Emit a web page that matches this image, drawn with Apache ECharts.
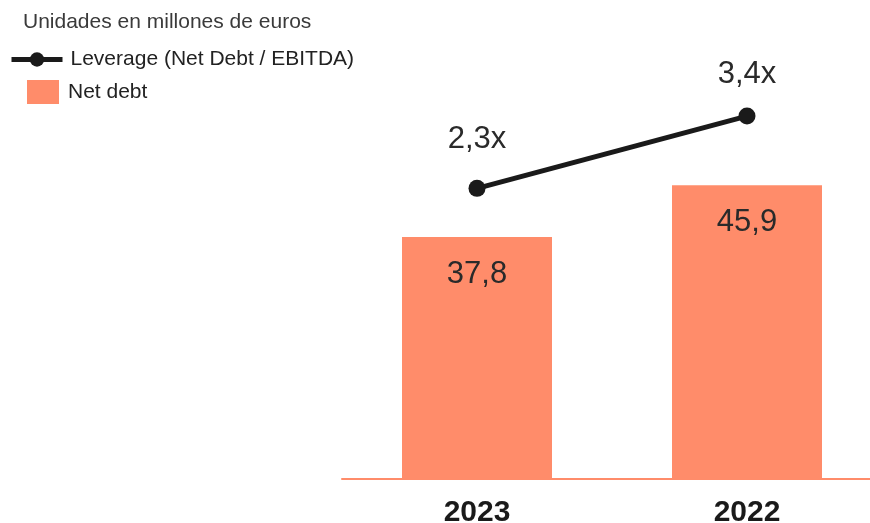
<!DOCTYPE html>
<html>
<head>
    <meta charset="utf-8" />
    <script src="https://cdn.jsdelivr.net/npm/echarts@6/dist/echarts.min.js"></script>
    <style>
        html, body { margin: 0; padding: 0; background: #fff; }
        #chart { width: 870px; height: 523px; }
    </style>
</head>
<body>
<div id="chart"></div>
<script>
    // datos
    var years = ['2023', '2022'];
    var netDebt = [37.8, 45.9];
    var leverage = [2.3, 3.4];
    var leverageLabelGap = [25, 18];

    var font = 'Liberation Sans';
    var salmon = '#ff8c6a';

    var myChart = echarts.init(document.getElementById('chart'));

    myChart.setOption({
        animation: false,
        textStyle: { fontFamily: font },
        title: {
            text: 'Unidades en millones de euros',
            left: 18,
            top: 7,
            textStyle: { fontSize: 21, fontWeight: 'normal', color: '#3a3a3a', fontFamily: font }
        },
        legend: [
            {
                data: ['Leverage (Net Debt / EBITDA)'],
                left: 4,
                top: 44,
                itemWidth: 51,
                itemHeight: 18,
                lineStyle: { width: 5, color: '#1a1a1a' },
                textStyle: { fontSize: 21, color: '#222', fontFamily: font, padding: [0, 0, 0, 3] }
            },
            {
                data: [{ name: 'Net debt', icon: 'rect' }],
                left: 22,
                top: 75,
                itemWidth: 32,
                itemHeight: 24,
                textStyle: { fontSize: 21, color: '#222', fontFamily: font, padding: [2, 0, 0, 4] }
            }
        ],
        grid: {
            left: 342,
            top: 95,
            width: 540,
            height: 384,
            outerBoundsMode: 'none',
            containLabel: false
        },
        xAxis: {
            type: 'category',
            data: years,
            axisLine: { lineStyle: { color: salmon, width: 2 } },
            axisTick: { show: false },
            axisLabel: {
                margin: 19,
                fontSize: 30,
                fontWeight: 'bold',
                color: '#1a1a1a',
                fontFamily: font
            }
        },
        yAxis: [
            { type: 'value', min: 0, max: 60, show: false, splitLine: { show: false } },
            { type: 'value', min: -2.12, max: 3.72, show: false, splitLine: { show: false } }
        ],
        series: [
            {
                name: 'Net debt',
                type: 'bar',
                data: netDebt,
                barWidth: 150,
                itemStyle: { color: salmon },
                label: {
                    show: true,
                    position: 'insideTop',
                    distance: 22,
                    fontSize: 31,
                    color: '#2a2a2a',
                    fontFamily: font,
                    formatter: function (p) { return String(p.value).replace('.', ','); }
                }
            },
            {
                name: 'Leverage (Net Debt / EBITDA)',
                type: 'line',
                yAxisIndex: 1,
                data: leverage.map(function (v, i) {
                    return { value: v, label: { distance: leverageLabelGap[i] } };
                }),
                symbol: 'circle',
                symbolSize: 17,
                lineStyle: { color: '#1a1a1a', width: 5 },
                itemStyle: { color: '#1a1a1a' },
                label: {
                    show: true,
                    position: 'top',
                    fontSize: 31,
                    color: '#2a2a2a',
                    fontFamily: font,
                    formatter: function (p) { return String(p.value).replace('.', ',') + 'x'; }
                }
            }
        ]
    });
</script>
</body>
</html>
